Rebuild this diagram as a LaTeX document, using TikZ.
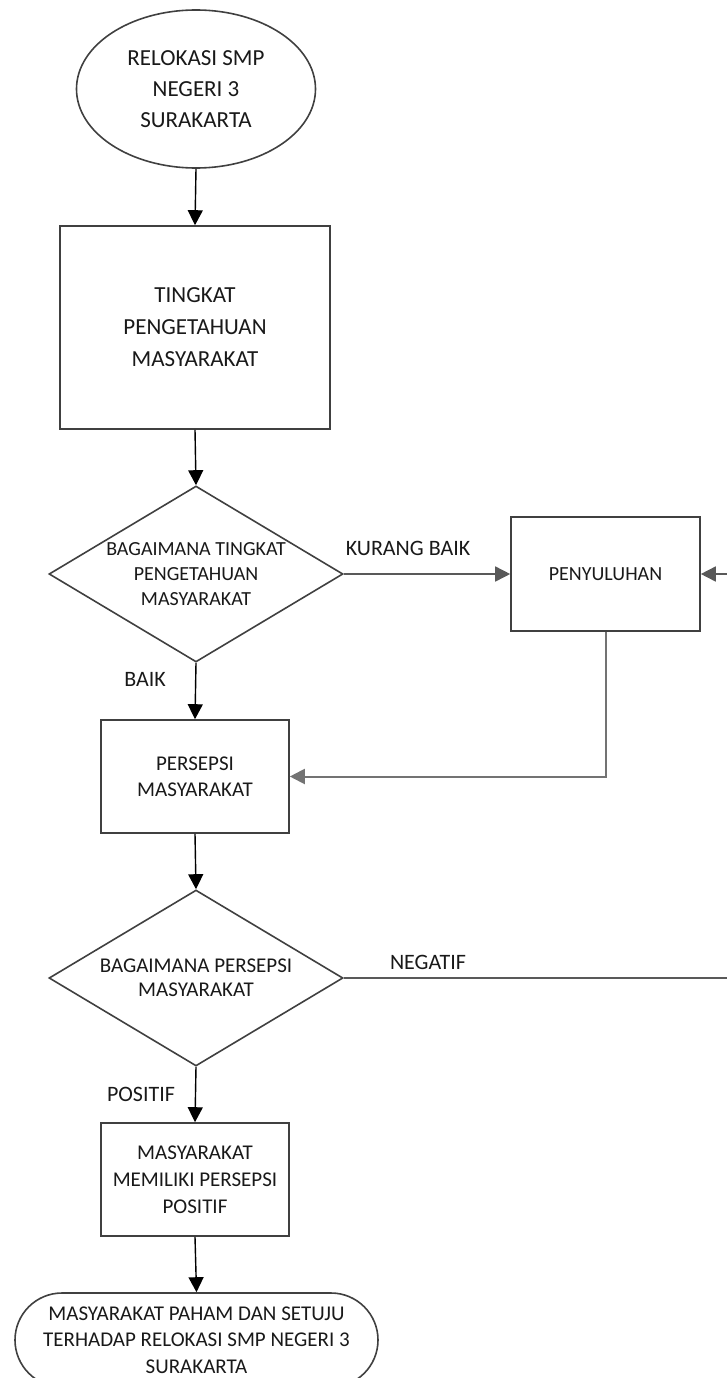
\documentclass[tikz,border=0pt]{standalone}
\usepackage{fontspec}
\setmainfont{Carlito}
\usetikzlibrary{shapes.geometric,arrows.meta}
\begin{document}
\begin{tikzpicture}[x=1pt,y=-1pt,
  shapeline/.style={draw=black!75, line width=1.6pt, inner sep=0pt, align=center, text=black!90},
  boxnode/.style={shapeline, rectangle},
  decnode/.style={shapeline, diamond, minimum width=294pt, minimum height=176pt},
  txt/.style={align=center, text=black!90, inner sep=0pt},
  conn/.style={draw=black, line width=1.4pt, -{Triangle[length=15pt,width=15pt]}},
  plainconn/.style={draw=black!65, line width=1.6pt},
  loopconn/.style={draw=black!55, line width=2pt, -{Triangle[length=15pt,width=15pt]}},
  lbl/.style={text=black!90, inner sep=0pt, font=\fontsize{22}{26}\selectfont}
]
\useasboundingbox (0,0) rectangle (727,1378);

% shapes
\node[shapeline, ellipse, minimum width=239pt, minimum height=158pt,
      font=\fontsize{23}{31}\selectfont] (start) at (196,89)
      {RELOKASI SMP\\NEGERI 3\\SURAKARTA};
\node[boxnode, minimum width=270pt, minimum height=203pt,
      font=\fontsize{23}{32}\selectfont] (b1) at (195,327.5)
      {TINGKAT\\PENGETAHUAN\\MASYARAKAT};
\node[decnode] (d1) at (196,574) {};
\node[txt, font=\fontsize{20}{25}\selectfont] (d1t) at (196,574)
      {BAGAIMANA TINGKAT\\PENGETAHUAN\\MASYARAKAT};
\node[boxnode, minimum width=189pt, minimum height=114pt,
      font=\fontsize{20}{24}\selectfont] (pen) at (605.5,574) {PENYULUHAN};
\node[boxnode, minimum width=188pt, minimum height=113pt,
      font=\fontsize{21}{26}\selectfont] (b2) at (195,776.5)
      {PERSEPSI\\MASYARAKAT};
\node[decnode] (d2) at (196,978) {};
\node[txt, font=\fontsize{21}{24}\selectfont] (d2t) at (196,978)
      {BAGAIMANA PERSEPSI\\MASYARAKAT};
\node[boxnode, minimum width=188pt, minimum height=113pt,
      font=\fontsize{21}{27}\selectfont] (b3) at (195,1179.5)
      {MASYARAKAT\\MEMILIKI PERSEPSI\\POSITIF};
\node[boxnode, rounded corners=47pt, minimum width=363pt, minimum height=94pt,
      font=\fontsize{21}{26.5}\selectfont] (end) at (196.5,1340)
      {MASYARAKAT PAHAM DAN SETUJU\\TERHADAP RELOKASI SMP NEGERI 3\\SURAKARTA};

% free ends at the right edge
\coordinate (rin) at (727,574);
\coordinate (rout) at (727,978);

% labels
\node[lbl] (lkb) at (408,548) {KURANG BAIK};
\node[lbl] (lbaik) at (145,679) {BAIK};
\node[lbl] (lneg) at (428,962) {NEGATIF};
\node[lbl] (lpos) at (141,1094) {POSITIF};

% connectors
\draw[conn] (start.south) -- (b1.north);
\draw[conn] (b1.south) -- (d1.north);
\draw[conn, draw=black!65, line width=1.6pt] (d1.east) -- (pen.west);
\draw[conn] (d1.south) -- (b2.north);
\draw[loopconn] (pen.south) |- (b2.east);
\draw[conn, draw=black!65, line width=1.6pt] (rin) -- (pen.east);
\draw[conn] (b2.south) -- (d2.north);
\draw[plainconn] (d2.east) -- (rout);
\draw[conn] (d2.south) -- (b3.north);
\draw[conn] (b3.south) -- (end.north);
\end{tikzpicture}
\end{document}
